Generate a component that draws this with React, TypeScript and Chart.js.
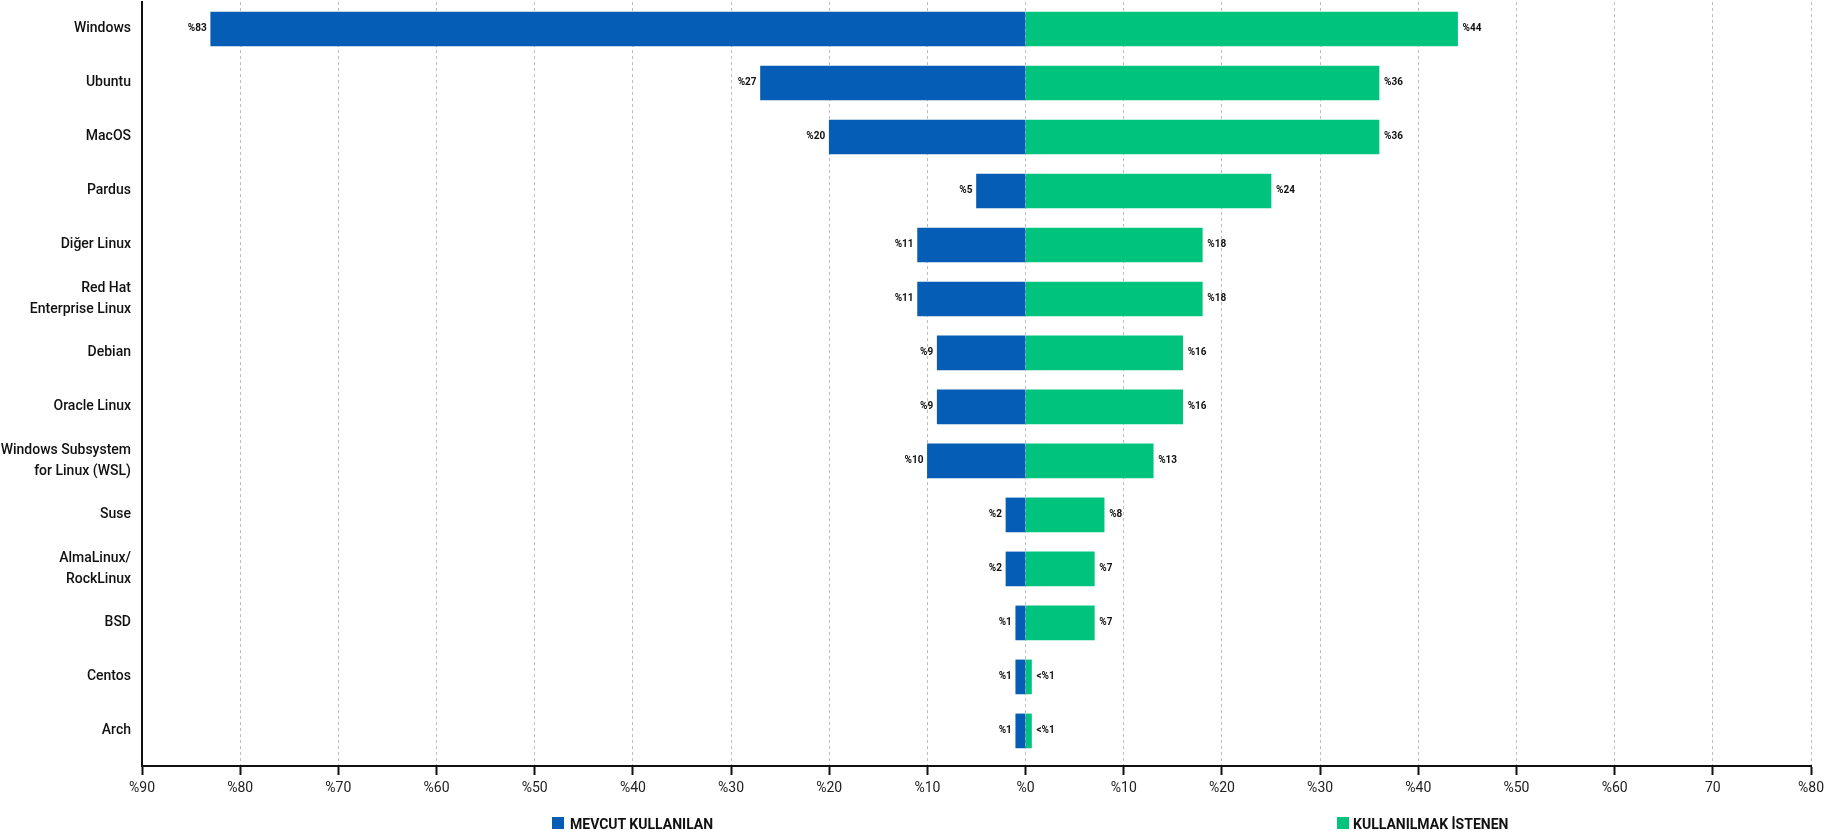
import React, { useEffect, useRef } from 'react';
import { Chart, registerables } from 'chart.js';

Chart.register(...registerables);

const categories: (string | string[])[] = [
  'Windows',
  'Ubuntu',
  'MacOS',
  'Pardus',
  'Diğer Linux',
  ['Red Hat', 'Enterprise Linux'],
  'Debian',
  'Oracle Linux',
  ['Windows Subsystem', 'for Linux (WSL)'],
  'Suse',
  ['AlmaLinux/', 'RockLinux'],
  'BSD',
  'Centos',
  'Arch',
];
const currentValues = [83, 27, 20, 5, 11, 11, 9, 9, 10, 2, 2, 1, 1, 1];
const desiredValues = [44, 36, 36, 25, 18, 18, 16, 16, 13, 8, 7, 7, 0.6, 0.6];
const currentLabels = ['%83', '%27', '%20', '%5', '%11', '%11', '%9', '%9', '%10', '%2', '%2', '%1', '%1', '%1'];
const desiredLabels = ['%44', '%36', '%36', '%24', '%18', '%18', '%16', '%16', '%13', '%8', '%7', '%7', '<%1', '<%1'];
const xTickLabels = ['%90', '%80', '%70', '%60', '%50', '%40', '%30', '%20', '%10', '%0', '%10', '%20', '%30', '%40', '%50', '%60', '70', '%80'];
const seriesNames = ['MEVCUT KULLANILAN', 'KULLANILMAK İSTENEN'];
const seriesColors = ['#055DB5', '#00C47D'];

const valueLabelPlugin = {
  id: 'valueLabels',
  afterDatasetsDraw(chart: any) {
    const ctx = chart.ctx;
    ctx.save();
    ctx.font = 'bold 10px Roboto';
    ctx.fillStyle = '#111';
    ctx.textBaseline = 'middle';
    chart.data.datasets.forEach((ds: any, d: number) => {
      const meta = chart.getDatasetMeta(d);
      const labels = d === 0 ? currentLabels : desiredLabels;
      meta.data.forEach((el: any, i: number) => {
        if (d === 0) {
          ctx.textAlign = 'right';
          ctx.fillText(labels[i], el.x - 4, el.y);
        } else {
          ctx.textAlign = 'left';
          ctx.fillText(labels[i], el.x + 5, el.y);
        }
      });
    });
    ctx.restore();
  },
};

export default function App() {
  const canvasRef = useRef<HTMLCanvasElement | null>(null);

  useEffect(() => {
    document.body.style.margin = '0';
    const canvas = canvasRef.current;
    if (!canvas) return;
    const chart = new Chart(canvas, {
      type: 'bar',
      data: {
        datasets: [
          {
            label: seriesNames[0],
            data: currentValues.map((v, i) => ({ x: -v, y: i })),
            backgroundColor: seriesColors[0],
            barThickness: 34,
          },
          {
            label: seriesNames[1],
            data: desiredValues.map((v, i) => ({ x: v, y: i })),
            backgroundColor: seriesColors[1],
            barThickness: 34,
          },
        ],
      },
      plugins: [valueLabelPlugin],
      options: {
        indexAxis: 'y',
        animation: false,
        responsive: true,
        maintainAspectRatio: false,
        layout: { padding: { top: 2, right: 15, bottom: 0, left: 0 } },
        plugins: {
          legend: { display: false },
          tooltip: { enabled: false },
        },
        scales: {
          x: {
            type: 'linear',
            stacked: true,
            min: -90,
            max: 80,
            afterFit: (scale: any) => {
              scale.height = 67;
              scale.paddingLeft = 0;
              scale.paddingRight = 0;
            },
            ticks: {
              stepSize: 10,
              autoSkip: false,
              maxRotation: 0,
              padding: 5,
              color: '#222',
              font: { family: 'Roboto', size: 14 },
              callback: (v: any) => xTickLabels[Math.round((Number(v) + 90) / 10)] ?? '',
            },
            grid: {
              color: '#bdbdbd',
              lineWidth: 1,
              tickColor: '#111',
              tickWidth: 2,
              tickLength: 9,
            },
            border: { display: true, color: '#111', width: 2, dash: [3, 3] },
          },
          y: {
            type: 'linear',
            stacked: true,
            reverse: true,
            offset: false,
            bounds: 'data',
            min: -0.5,
            max: 13.65,
            afterFit: (scale: any) => {
              scale.width = 142;
              scale.paddingTop = 0;
              scale.paddingBottom = 0;
            },
            afterBuildTicks: (scale: any) => {
              scale.ticks = categories.map((_, i) => ({ value: i }));
            },
            ticks: {
              autoSkip: false,
              padding: 11,
              color: '#111',
              font: { family: 'Roboto', size: 14, weight: '500', lineHeight: 1.45 },
              callback: (v: any) => {
                const i = Number(v);
                return Number.isInteger(i) && categories[i] !== undefined ? categories[i] : '';
              },
            },
            grid: { display: false, drawTicks: false, offset: false },
            border: { display: true, color: '#111', width: 2 },
          },
        },
      },
    } as any);
    return () => chart.destroy();
  }, []);

  const legendText: React.CSSProperties = {
    position: 'absolute',
    top: 817,
    fontFamily: 'Roboto',
    fontWeight: 700,
    fontSize: 14,
    lineHeight: '14px',
    color: '#111',
    whiteSpace: 'nowrap',
  };
  const legendBox: React.CSSProperties = {
    position: 'absolute',
    top: 817,
    width: 12,
    height: 12,
  };

  return (
    <div style={{ position: 'relative', width: 1826, height: 833, overflow: 'hidden' }}>
      <canvas ref={canvasRef} style={{ display: 'block', width: '100%', height: '100%' }} />
      <div style={{ ...legendBox, left: 552, background: seriesColors[0] }} />
      <div style={{ ...legendText, left: 570 }}>{seriesNames[0]}</div>
      <div style={{ ...legendBox, left: 1337, background: seriesColors[1] }} />
      <div style={{ ...legendText, left: 1353 }}>{seriesNames[1]}</div>
    </div>
  );
}
